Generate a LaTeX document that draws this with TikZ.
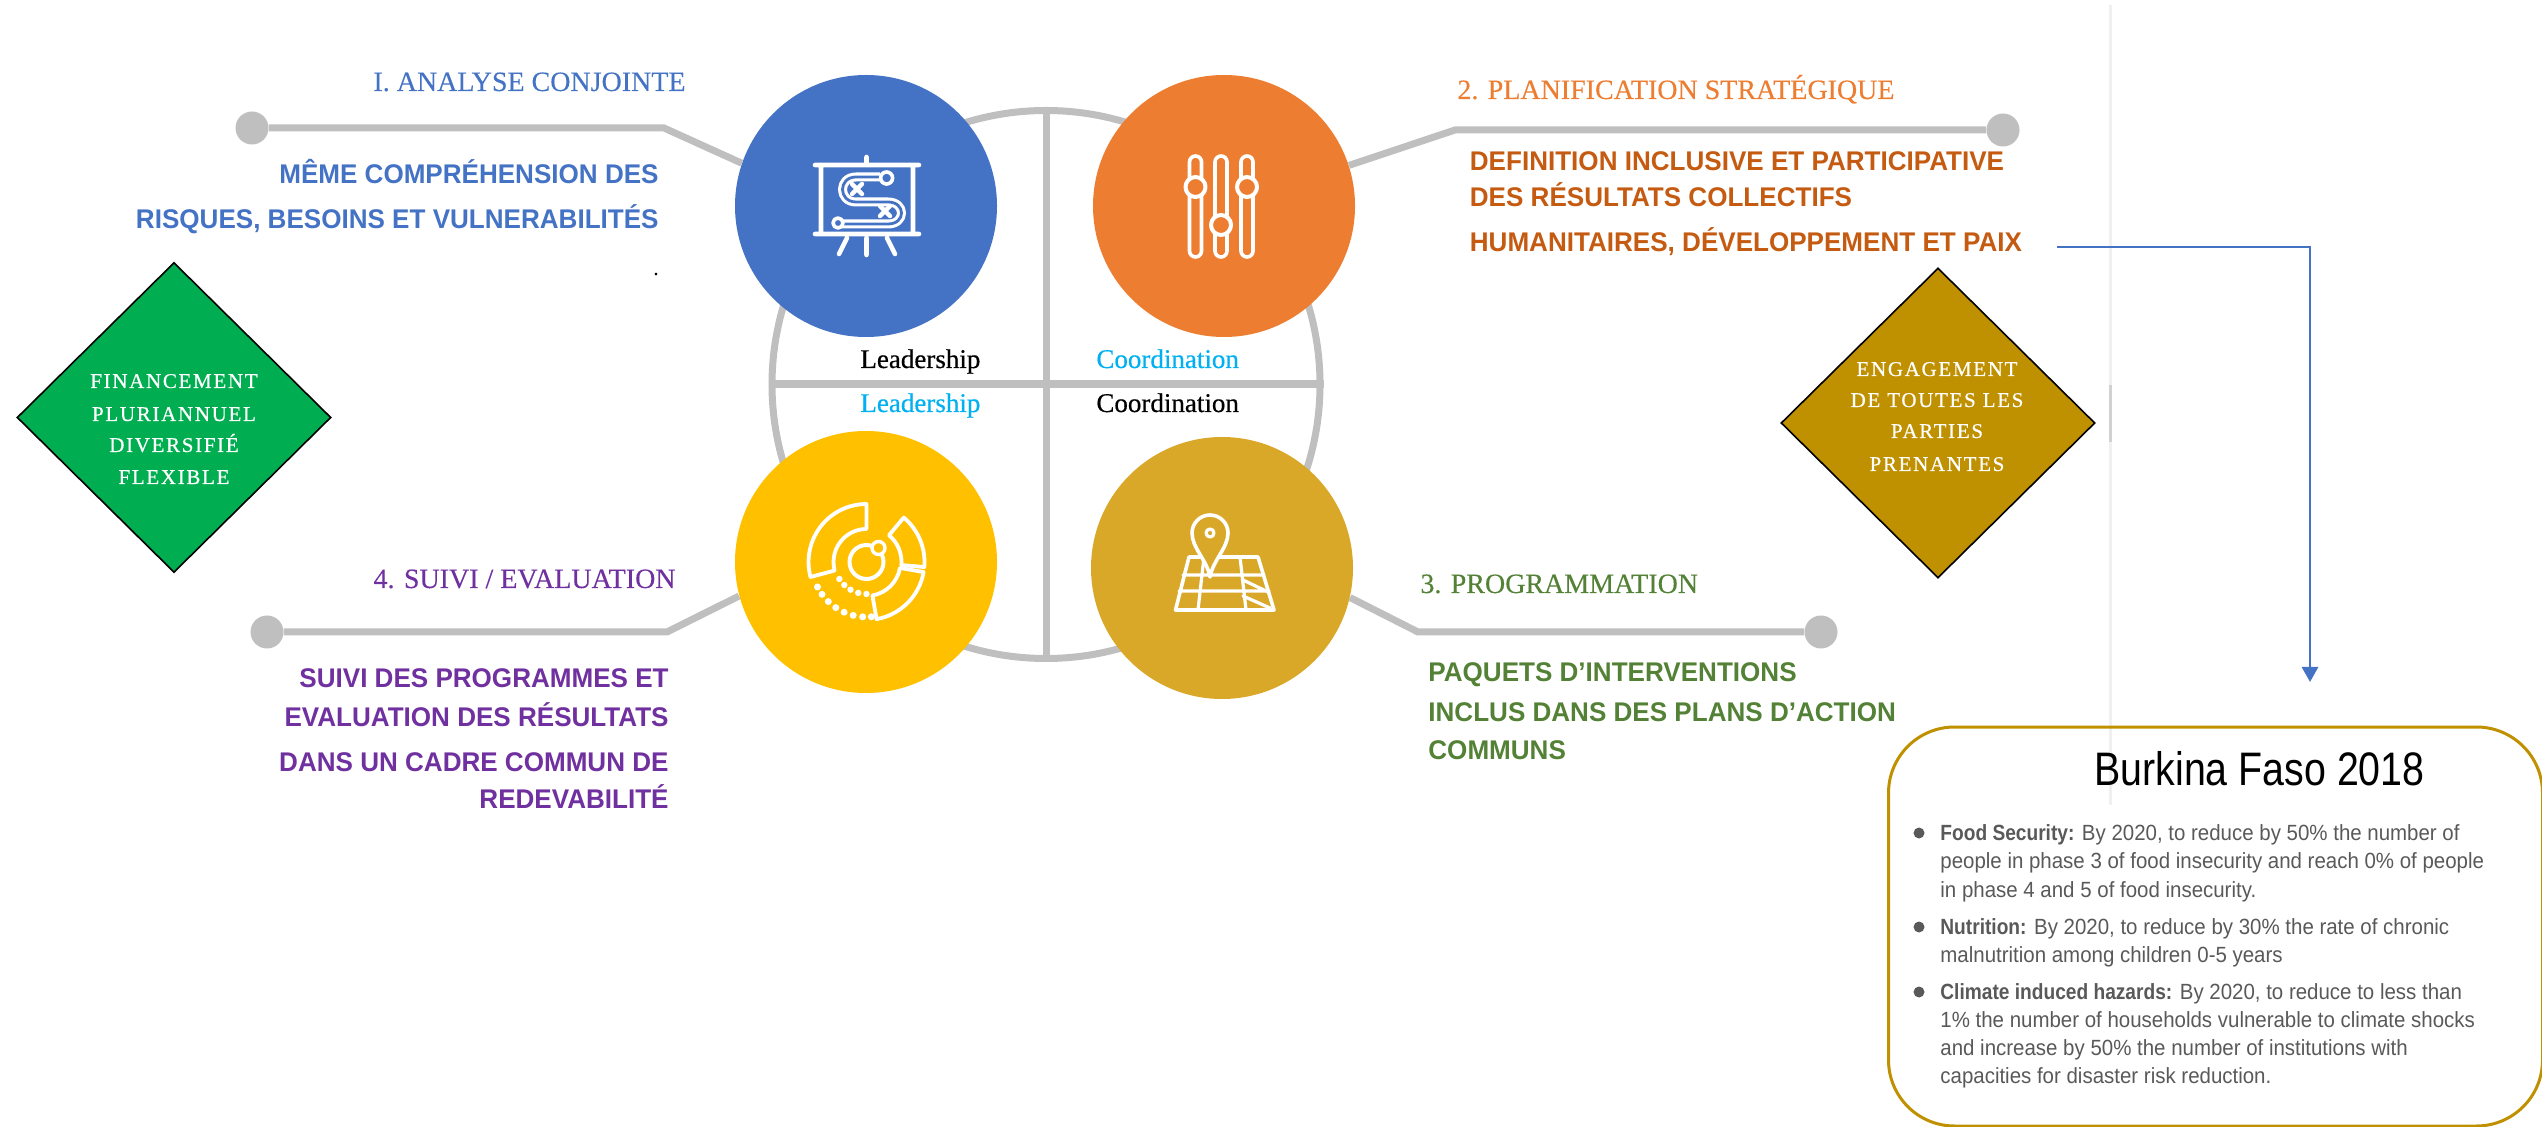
\documentclass[tikz,border=0pt]{standalone}
\usepackage{fontspec}
\usetikzlibrary{shapes.geometric,arrows.meta}
\setmainfont{Liberation Serif}
\setsansfont{Liberation Sans}
\newfontfamily\dfont[LetterSpace=8,FakeBold=0.5]{Liberation Serif}
\newfontfamily\ttlfont[FakeBold=0.25]{Liberation Serif}
\newfontfamily\leadfont[FakeBold=0.5]{Liberation Serif}
\newfontfamily\lblfont[FakeStretch=0.965]{Liberation Sans}
\newfontfamily\bodyfont[FakeStretch=0.93,BoldFeatures={FakeStretch=0.87}]{Liberation Sans}
\newfontfamily\headfont[FakeStretch=0.837]{Liberation Sans}
\newcommand{\pxf}[1]{\fontsize{\dimexpr #1pt/2\relax}{\dimexpr #1pt/2\relax}\selectfont}
\definecolor{cblue}{HTML}{4472C4}
\definecolor{corange}{HTML}{ED7D31}
\definecolor{cdorange}{HTML}{C55A11}
\definecolor{cyell}{HTML}{FFC000}
\definecolor{cgold}{HTML}{DAA829}
\definecolor{cgreen}{HTML}{538135}
\definecolor{cpurple}{HTML}{7030A0}
\definecolor{cgray}{HTML}{BFBFBF}
\definecolor{cdia}{HTML}{BF9000}
\definecolor{cdgreen}{HTML}{00AD50}
\definecolor{csky}{HTML}{00B0F0}
\tikzset{
  x=0.5pt,y=-0.5pt,
  big/.style={circle,minimum size=131pt,inner sep=0pt,draw=none},
  gline/.style={draw=cgray,line width=3.5pt},
  dotn/.style={circle,fill=cgray,minimum size=16.5pt,inner sep=0pt},
  ttl/.style={inner sep=0pt,font=\ttlfont\pxf{28}},
  lbl/.style={inner sep=0pt,font=\lblfont\bfseries\pxf{27}},
  lead/.style={inner sep=0pt,anchor=base west,font=\leadfont\pxf{27}},
  dia/.style={diamond,draw=black,line width=0.8pt,inner sep=0pt,minimum width=157pt,minimum height=155pt,aspect=1},
  dtxt/.style={inner sep=0pt,anchor=base,text=white,font=\dfont\pxf{21}},
  body/.style={inner sep=0pt,anchor=base west,text=black!65,font=\bodyfont\pxf{22}},
  ico/.style={draw=white,line width=2.3pt,line cap=round,line join=round},
}
\begin{document}
\begin{tikzpicture}
\useasboundingbox (0,0) rectangle (2542,1127);
% separator in the background
\draw[draw=black!6,line width=1.5pt] (2110,5) -- (2110,805);
\draw[draw=black!18,line width=1.5pt] (2110,385) -- (2110,442);
% central wheel
\node[circle,draw=cgray,line width=3.5pt,minimum size=274pt,inner sep=0pt] (wheel) at (1046,384.5) {};
\draw[gline] (wheel.north) -- (wheel.south);
\draw[gline,line width=4pt] (wheel.west) -- (wheel.east);
% circles
\node[dotn] (d1) at (252,128) {};
\node[dotn] (d2) at (2003,130) {};
\node[dotn] (d3) at (1821,632) {};
\node[dotn] (d4) at (267,632) {};
\coordinate (k1) at (664,128);
\coordinate (k2) at (1455,130);
\coordinate (k3) at (1418,632);
\coordinate (k4) at (667,632);
\node[big,fill=cblue] (c1) at (866,206) {};
\node[big,fill=corange] (c2) at (1224,206) {};
\node[big,fill=cgold] (c3) at (1222,568) {};
\node[big,fill=cyell] (c4) at (866,562) {};
\draw[gline] (d1) -- (k1) -- (c1.161);
\draw[gline] (d2) -- (k2) -- (c2.18);
\draw[gline] (d3) -- (k3) -- (c3.-13);
\draw[gline] (d4) -- (k4) -- (c4.195);
% icon 1: board
\draw[ico] (815,165) -- (919,165) (815,234) -- (919,234) (821,165) -- (821,234) (913,165) -- (913,234)
  (866.5,157) -- (866.5,165) (866.5,238) -- (866.5,255) (847,238) -- (839,254) (887,238) -- (895,254);
\draw[white,line width=4.5pt,line join=round] (880,177) -- (856,177) .. controls (838,177) and (838,202) .. (856,202) -- (888,202) .. controls (906,202) and (906,224) .. (888,224) -- (841,224);
\draw[cblue,line width=1.4pt] (880,177) -- (856,177) .. controls (838,177) and (838,202) .. (856,202) -- (888,202) .. controls (906,202) and (906,224) .. (888,224) -- (841,224);
\draw[ico,line width=1.8pt,fill=cblue] (886.6,178) circle (6);
\draw[ico,line width=1.8pt,fill=cblue] (838,223) circle (5);
\draw[ico,line width=2.2pt] (852,184) -- (862,194) (852,194) -- (862,184) (880,206) -- (890,216) (880,216) -- (890,206);
% icon 2: sliders
\foreach \xx/\yy in {1195.5/187,1221/225,1247/187}{
  \draw[ico,line width=1.8pt] (\xx-6,162) arc (180:360:6) -- (\xx+6,251) arc (0:180:6) -- cycle;
  \draw[ico,line width=2pt,fill=corange] (\xx,\yy) circle (10);
}
% icon 3: map
\draw[ico,line width=1.8pt] (1189,557) -- (1258,557) -- (1274,610) -- (1175.5,610) -- cycle;
\draw[ico,line width=1.6pt] (1183,575) -- (1264,575) (1179,591) -- (1269,591)
  (1204,557) -- (1198,610) (1240,557) -- (1246,610) (1243,580) -- (1268,592) (1243,596) -- (1270,608);
\draw[ico,line width=1.8pt,fill=cgold] (1210,577) .. controls (1207,560) and (1192,548) .. (1192,533) arc (180:360:18) .. controls (1228,548) and (1213,560) .. (1210,577) -- cycle;
\draw[ico,line width=1.6pt] (1210,533) circle (4);
% icon 4: radar
\begin{scope}[shift={(866.5,562)}]
\draw[ico,line width=1.9pt] (-90:58) arc (-90:-195:58) -- (-195:33) arc (-195:-90:33) -- cycle;
\draw[ico,line width=1.9pt] (-50:58) arc (-50:5:58) -- (5:35) arc (5:-50:35) -- cycle;
\draw[ico,line width=1.9pt] (10:58) arc (10:80:58) -- (80:34) arc (80:10:34) -- cycle;
\draw[ico,line width=2pt] (0,0) circle (17);
\draw[ico,line width=1.7pt,fill=cyell] (12,-14) circle (6.5);
\foreach \a in {207,216,226,236,246,256,266,275}{\fill[white] (-\a:55) circle (3.5);}
\foreach \a in {212,226,240,255,270}{\fill[white] (-\a:32) circle (3.2);}
\end{scope}
% titles
\node[ttl,anchor=base east,text=cblue] (t1) at (686,91) {I. ANALYSE CONJOINTE};
\node[ttl,anchor=base west,text=corange] (t2) at (1457,99) {2. PLANIFICATION STRATÉGIQUE};
\node[ttl,anchor=base west,text=cgreen] (t3) at (1420,593) {3. PROGRAMMATION};
\node[ttl,anchor=base east,text=cpurple] (t4) at (676,588) {4. SUIVI / EVALUATION};
% sans labels
\node[lbl,anchor=base east,text=cblue] (a1) at (659,184) {MÊME COMPRÉHENSION DES};
\node[lbl,anchor=base east,text=cblue] (a2) at (659,229) {RISQUES, BESOINS ET VULNERABILITÉS};
\node[inner sep=0pt,anchor=base,font=\pxf{22}] (a3) at (656,276) {.};
\node[lbl,anchor=base west,text=cdorange] (b1) at (1469.5,171) {DEFINITION INCLUSIVE ET PARTICIPATIVE};
\node[lbl,anchor=base west,text=cdorange] (b2) at (1469.5,207) {DES RÉSULTATS COLLECTIFS};
\node[lbl,anchor=base west,text=cdorange] (b3) at (1469.5,252) {HUMANITAIRES, DÉVELOPPEMENT ET PAIX};
\node[lbl,anchor=base west,text=cgreen] (g1) at (1428,682) {PAQUETS D’INTERVENTIONS};
\node[lbl,anchor=base west,text=cgreen] (g2) at (1428,721) {INCLUS DANS DES PLANS D’ACTION};
\node[lbl,anchor=base west,text=cgreen] (g3) at (1428,759) {COMMUNS};
\node[lbl,anchor=base east,text=cpurple] (p1) at (669,688) {SUIVI DES PROGRAMMES ET};
\node[lbl,anchor=base east,text=cpurple] (p2) at (669,726) {EVALUATION DES RÉSULTATS};
\node[lbl,anchor=base east,text=cpurple] (p3) at (669,771) {DANS UN CADRE COMMUN DE};
\node[lbl,anchor=base east,text=cpurple] (p4) at (669,808) {REDEVABILITÉ};
% quadrant words
\node[lead,text=black] (l1) at (860,368) {Leadership};
\node[lead,text=csky] (l2) at (860,412) {Leadership};
\node[lead,text=csky] (l3) at (1096,368) {Coordination};
\node[lead,text=black] (l4) at (1096,412) {Coordination};
% diamonds
\node[dia,fill=cdgreen] (dg) at (174,417.5) {};
\node[dtxt] (dg1) at (174,388) {FINANCEMENT};
\node[dtxt] (dg2) at (174,421) {PLURIANNUEL};
\node[dtxt] (dg3) at (174,452) {DIVERSIFIÉ};
\node[dtxt] (dg4) at (174,484) {FLEXIBLE};
\node[dia,fill=cdia] (dr) at (1938,423) {};
\node[dtxt] (dr1) at (1937,376) {ENGAGEMENT};
\node[dtxt] (dr2) at (1937,407) {DE TOUTES LES};
\node[dtxt] (dr3) at (1937,438) {PARTIES};
\node[dtxt] (dr4) at (1937,471) {PRENANTES};
% arrow
\coordinate (as) at (2057,247);
\coordinate (ab) at (2310,247);
\coordinate (ae) at (2310,682);
\draw[cblue,line width=1.4pt,-{Triangle[length=7.5pt,width=8pt]}] (as) -- (ab) -- (ae);
% box
\node[draw=cdia,line width=1.5pt,rounded corners=33pt,minimum width=327pt,minimum height=199.5pt,inner sep=0pt] (box) at (2215.5,926.5) {};
\node[inner sep=0pt,anchor=base west,font=\headfont\pxf{47}] (bt) at (2094,785) {Burkina Faso 2018};
\fill[black!65] (1919,833) circle (5.5) (1919,927) circle (5.5) (1919,992) circle (5.5);
\node[body] (x1) at (1940,840) {\textbf{Food Security:} By 2020, to reduce by 50\% the number of};
\node[body] (x2) at (1940,868) {people in phase 3 of food insecurity and reach 0\% of people};
\node[body] (x3) at (1940,897) {in phase 4 and 5 of food insecurity.};
\node[body] (x4) at (1940,934) {\textbf{Nutrition:} By 2020, to reduce by 30\% the rate of chronic};
\node[body] (x5) at (1940,962) {malnutrition among children 0-5 years};
\node[body] (x6) at (1940,999) {\textbf{Climate induced hazards:} By 2020, to reduce to less than};
\node[body] (x7) at (1940,1027) {1\% the number of households vulnerable to climate shocks};
\node[body] (x8) at (1940,1055) {and increase by 50\% the number of institutions with};
\node[body] (x9) at (1940,1083) {capacities for disaster risk reduction.};
\end{tikzpicture}
\end{document}
